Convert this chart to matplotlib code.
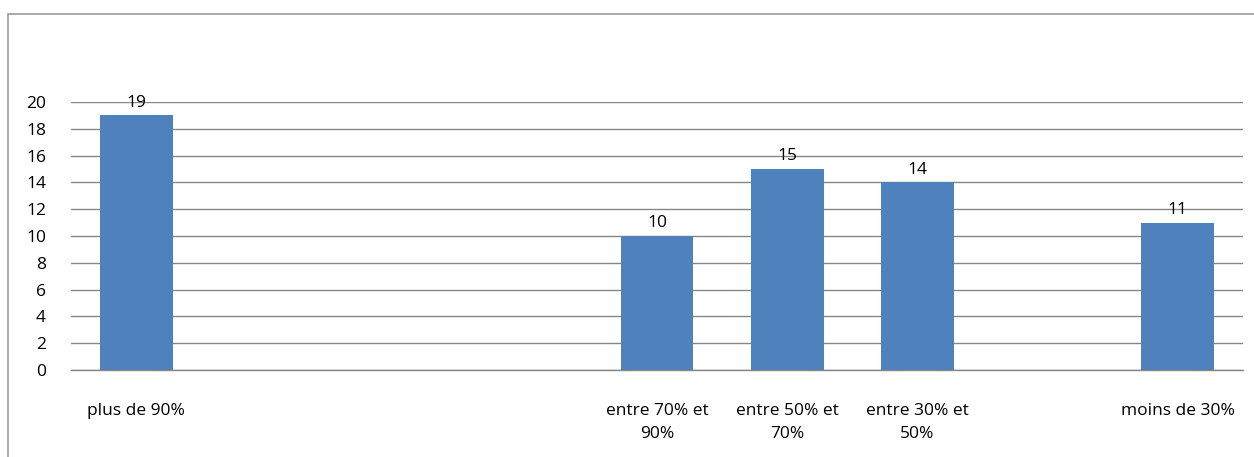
import numpy as np
import matplotlib
matplotlib.use("Agg")
import matplotlib.pyplot as plt
from matplotlib.patches import Rectangle

plt.rcParams['font.family'] = ['Open Sans', 'DejaVu Sans']

# slots of the category axis, empty ones carry no bar
categories = ["plus de 90%", "", "", "", "entre 70% et\n90%", "entre 50% et\n70%",
              "entre 30% et\n50%", "", "moins de 30%"]
values = [19, np.nan, np.nan, np.nan, 10, 15, 14, np.nan, 11]
yticks = [0, 2, 4, 6, 8, 10, 12, 14, 16, 18, 20]

W, H = 1254, 457
fig = plt.figure(figsize=(W / 100, H / 100), dpi=100)

# outer chart frame
fig.patches.append(Rectangle((8 / W, -0.1), 1.2, (H - 14) / H + 0.1, transform=fig.transFigure,
                             fill=False, edgecolor="#9a9a9a", linewidth=1.2))

ax = fig.add_axes([71 / W, 87 / H, (1243 - 71) / W, (370 - 102) / H])
x = np.arange(len(categories))
bars = ax.bar(x, values, width=0.56, color="#4F81BD", zorder=3)

for xi, v in zip(x, values):
    if not np.isnan(v):
        ax.text(xi, v + 0.35, f"{v:g}", ha="center", va="bottom", fontsize=12.5, color="black")

ax.set_xlim(-0.5, len(categories) - 0.5)
ax.set_ylim(0, 20)
ax.set_yticks(yticks)
ax.set_xticks(x)
ax.set_xticklabels(categories, fontsize=12.5, color="black", linespacing=1.55)
ax.tick_params(axis="y", length=0, pad=18, labelsize=12.5, labelcolor="black")
ax.tick_params(axis="x", length=0, pad=24)
ax.yaxis.grid(True, color="#868686", linewidth=1.0, zorder=0)
ax.axhline(0, color="#868686", linewidth=1.0, zorder=4, clip_on=False)
for s in ax.spines.values():
    s.set_visible(False)

fig.savefig("out.png", dpi=100)
